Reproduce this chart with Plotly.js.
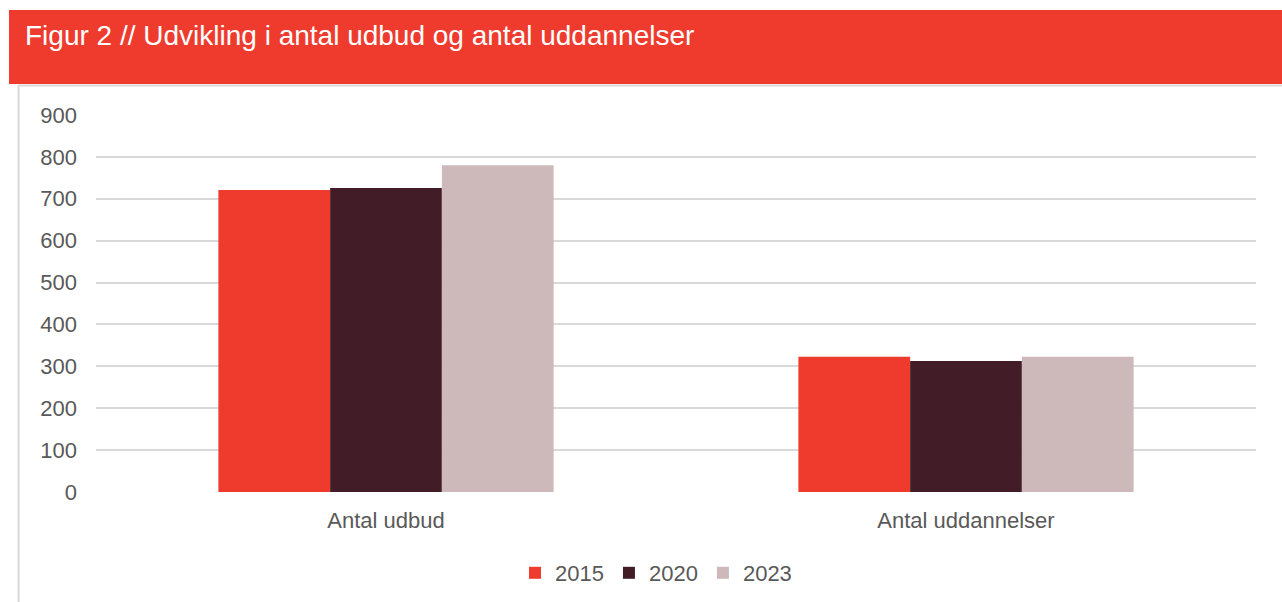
<!DOCTYPE html>
<html>
<head>
<meta charset="utf-8">
<script src="https://cdn.plot.ly/plotly-3.0.1.min.js"></script>
<style>html,body{margin:0;padding:0;background:#fff;}#chart{width:1282px;height:602px;}</style>
</head>
<body>
<div id="chart"></div>
<script>
const categories = ["Antal udbud", "Antal uddannelser"];
const seriesNames = ["2015", "2020", "2023"];
const values2015 = [721, 323];
const values2020 = [726, 313];
const values2023 = [780, 323];
const yTicks = [0, 100, 200, 300, 400, 500, 600, 700, 800, 900];
const titleText = "Figur 2 // Udvikling i antal udbud og antal uddannelser";

const colors = ["#EE3B2E", "#421C26", "#CDB8BA"];
const W = 1282, H = 602;
const M = {l: 96, r: 26, t: 115, b: 110, autoexpand: false};
const pw = W - M.l - M.r, ph = H - M.t - M.b;
const px = x => (x - M.l) / pw;
const py = y => (H - M.b - y) / ph;

const allValues = [values2015, values2020, values2023];
const traces = seriesNames.map((name, i) => ({
  type: "bar",
  name: name,
  x: categories,
  y: allValues[i],
  marker: {color: colors[i]},
  hoverinfo: "x+y+name"
}));

const FONT = "Liberation Sans, Arial, sans-serif";
const layout = {
  width: W, height: H,
  margin: M,
  paper_bgcolor: "#ffffff",
  plot_bgcolor: "#ffffff",
  font: {family: FONT, color: "#595959", size: 22},
  title: {
    text: titleText,
    font: {family: FONT, size: 28, color: "#ffffff"},
    xref: "container", yref: "container",
    x: 25 / W, xanchor: "left",
    y: 1 - 35 / H, yanchor: "middle"
  },
  barmode: "group",
  bargap: 0.422,
  bargroupgap: 0,
  showlegend: true,
  legend: {
    orientation: "h",
    x: px(656), xanchor: "center",
    y: py(573), yanchor: "middle",
    font: {family: FONT, size: 22, color: "#595959"},
    traceorder: "normal",
    itemwidth: 30
  },
  xaxis: {
    showgrid: false, zeroline: false, showline: false,
    ticks: "", ticklabelstandoff: 13,
    tickfont: {family: FONT, size: 22, color: "#595959"}
  },
  yaxis: {
    range: [0, 900],
    tickvals: yTicks,
    ticktext: yTicks.map(String),
    showgrid: true, gridcolor: "#d9d9d9", gridwidth: 1.5,
    zeroline: false, showline: false, ticks: "",
    ticklabelstandoff: 18,
    tickfont: {family: FONT, size: 22, color: "#595959"}
  },
  shapes: [
    {type: "rect", xref: "paper", yref: "paper", layer: "below",
     x0: px(9), x1: px(1282), y0: py(10), y1: py(84),
     fillcolor: "#EE3B2E", line: {width: 0}},
    {type: "line", xref: "paper", yref: "paper", layer: "below",
     x0: px(18), x1: px(1282), y0: py(85.5), y1: py(85.5),
     line: {color: "#d9d9d9", width: 2}},
    {type: "line", xref: "paper", yref: "paper", layer: "below",
     x0: px(18.5), x1: px(18.5), y0: py(85), y1: py(602),
     line: {color: "#d9d9d9", width: 2}}
  ]
};

Plotly.newPlot("chart", traces, layout, {displayModeBar: false});
</script>
</body>
</html>
